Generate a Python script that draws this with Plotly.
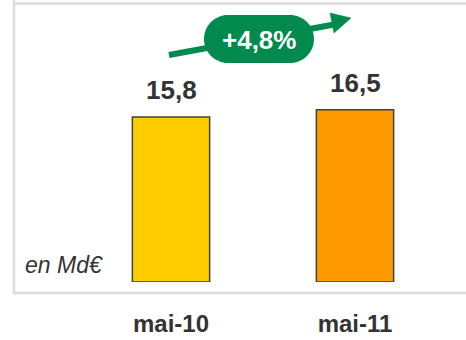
import plotly.graph_objects as go

# Data
periods = ["mai-10", "mai-11"]
amounts = [15.8, 16.5]          # en Md€
growth_label = "+4,8%"
unit_label = "en Md€"
bar_colors = ["#FFCC00", "#FF9900"]

W, H = 466, 340
BASE_PX = 282          # pixel row of the zero line
PX_PER_UNIT = 10.44    # vertical scale
GREEN = "#008A4E"
TEXT = "#333333"
FONT = "Liberation Sans, Arial, sans-serif"


def px(x):
    return x / W


def py(y):
    return (BASE_PX - y) / BASE_PX


fig = go.Figure()
fig.add_trace(go.Bar(
    x=periods, y=amounts, width=0.42,
    marker=dict(color=bar_colors, line=dict(color="#404040", width=1.5)),
    hoverinfo="skip",
))

# value labels above bars
for p, v in zip(periods, amounts):
    fig.add_annotation(
        x=p, y=v, xref="x", yref="y", xanchor="center", yanchor="bottom", yshift=10,
        text="<b>" + f"{v:.1f}".replace(".", ",") + "</b>", showarrow=False,
        font=dict(family=FONT, size=26, color=TEXT),
    )

shapes = []
# frame
shapes.append(dict(type="rect", xref="paper", yref="paper",
                   x0=px(14), x1=px(480), y0=py(293), y1=py(3.5),
                   line=dict(color="#DCDCDC", width=2.5), fillcolor="rgba(0,0,0,0)", layer="below"))
shapes.append(dict(type="line", xref="paper", yref="paper",
                   x0=px(14), x1=px(14), y0=py(3.5), y1=py(-2),
                   line=dict(color="#DCDCDC", width=2.5)))

# growth arrow: shaft and head
shapes.append(dict(type="line", xref="paper", yref="paper",
                   x0=px(169), y0=py(55), x1=px(334), y1=py(24.5),
                   line=dict(color=GREEN, width=6)))
shapes.append(dict(type="path", xref="paper", yref="paper",
                   path=f"M {px(330)} {py(13)} L {px(351)} {py(18)} L {px(334)} {py(33)} Z",
                   fillcolor=GREEN, line=dict(color=GREEN, width=0.5)))

# pill behind the growth label
x0, x1, y0, y1 = 204, 314, 15, 63
r = (y1 - y0) / 2
k = 0.5523 * r
cy = (y0 + y1) / 2
pts = [
    ("M", [(x0 + r, y0)]),
    ("L", [(x1 - r, y0)]),
    ("C", [(x1 - r + k, y0), (x1, cy - k), (x1, cy)]),
    ("C", [(x1, cy + k), (x1 - r + k, y1), (x1 - r, y1)]),
    ("L", [(x0 + r, y1)]),
    ("C", [(x0 + r - k, y1), (x0, cy + k), (x0, cy)]),
    ("C", [(x0, cy - k), (x0 + r - k, y0), (x0 + r, y0)]),
]
path = " ".join(cmd + " " + " ".join(f"{px(a)} {py(b)}" for a, b in c) for cmd, c in pts) + " Z"
shapes.append(dict(type="path", xref="paper", yref="paper", path=path,
                   fillcolor=GREEN, line=dict(color=GREEN, width=0)))

fig.add_annotation(x=px(259), y=py(40), xref="paper", yref="paper",
                   xanchor="center", yanchor="middle",
                   text="<b>" + growth_label + "</b>", showarrow=False,
                   font=dict(family=FONT, size=26, color="white"))

fig.add_annotation(x=px(23), y=py(265), xref="paper", yref="paper",
                   xanchor="left", yanchor="middle",
                   text="<i>" + unit_label + "</i>", showarrow=False,
                   font=dict(family=FONT, size=23, color=TEXT))

x_lo = -171 / 184
x_hi = (W - 171) / 184
fig.update_layout(
    width=W, height=H,
    margin=dict(l=0, r=0, t=0, b=H - BASE_PX),
    paper_bgcolor="white", plot_bgcolor="white",
    showlegend=False,
    shapes=shapes,
    xaxis=dict(type="category", range=[x_lo, x_hi], showgrid=False, zeroline=False,
               showline=False, ticks="outside", ticklen=20, tickcolor="rgba(0,0,0,0)",
               tickfont=dict(family=FONT, size=24, color=TEXT), automargin=False,
               tickprefix="<b>", ticksuffix="</b>"),
    yaxis=dict(range=[0, BASE_PX / PX_PER_UNIT], visible=False, automargin=False),
)

fig.write_html("out.html", config={"displayModeBar": False})
